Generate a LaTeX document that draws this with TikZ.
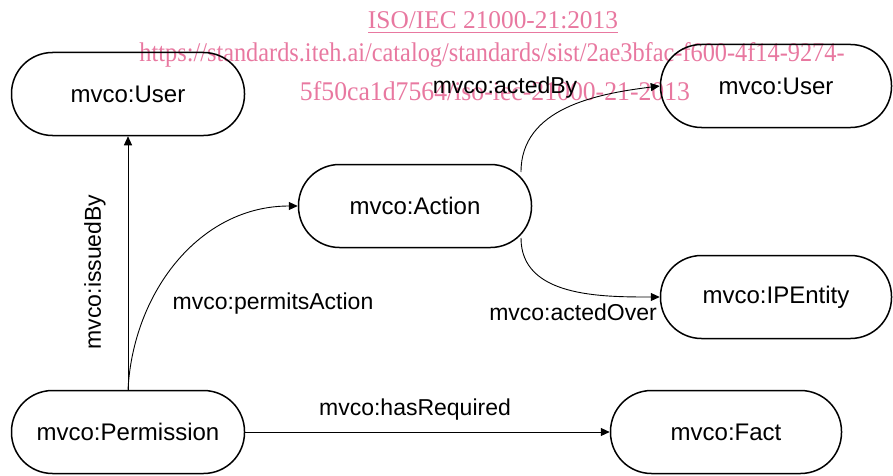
\documentclass[tikz,border=0pt]{standalone}
\usepackage{fontspec}
\setmainfont{Liberation Sans}
\newfontfamily\wmfont{Liberation Serif}
\usetikzlibrary{arrows.meta}
\definecolor{wmpink}{RGB}{232,120,160}
\tikzset{
  cls/.style={draw, line width=1.5pt, rounded corners=41pt, minimum width=233pt, minimum height=83pt, font=\fontsize{24}{28}\selectfont, inner sep=0pt},
  rel/.style={line width=0.9pt, -{Triangle[length=9pt,width=8pt]}},
  lab/.style={font=\fontsize{23}{27}\selectfont, inner sep=0pt},
  wm/.style={text=wmpink, inner sep=0pt, anchor=base}
}
\begin{document}
\begin{tikzpicture}[x=1pt,y=1pt]
\useasboundingbox (0,0) rectangle (893,475);
% watermark
\node[wm] (wm1) at (493,446) {\resizebox{250pt}{17pt}{\wmfont\fontsize{20}{24}\selectfont ISO/IEC 21000-21:2013}};
\draw[wmpink, line width=0.9pt] (368,443) -- (618,443);
\node[wm] (wm2) at (492,413) {\resizebox{705pt}{19pt}{\wmfont\fontsize{20}{24}\selectfont https://standards.iteh.ai/catalog/standards/sist/2ae3bfac-f600-4f14-9274-}};
\node[wm] (wm3) at (495,374) {\resizebox{390pt}{19pt}{\wmfont\fontsize{20}{24}\selectfont 5f50ca1d7564/iso-iec-21000-21-2013}};
% classes
\node[cls] (userL) at (128,381) {mvco:User};
\node[cls, minimum width=231pt] (userR) at (776,389) {mvco:User};
\node[cls] (act) at (415,269) {mvco:Action};
\node[cls, minimum width=231pt] (ipe) at (776,178) {mvco:IPEntity};
\node[cls] (perm) at (128,43) {mvco:Permission};
\node[cls, minimum width=231pt] (fact) at (726,43) {mvco:Fact};
\coordinate (actUp) at ([shift={(106,34)}]act.center);
\coordinate (actDn) at ([shift={(106,-32)}]act.center);
% relations
\draw[rel] (perm.north) -- (userL.south);
\draw[rel] (perm.north) to[out=87,in=180] (act.west);
\draw[rel] (actUp) to[out=90,in=187] (userR.west);
\draw[rel] (actDn) to[out=270,in=180] (ipe.west);
\draw[rel] (perm.east) -- (fact.west);
% labels
\node[lab, rotate=90] (lIssued) at (95,203) {mvco:issuedBy};
\node[lab] (lPermits) at (273,171) {mvco:permitsAction};
\node[lab] (lBy) at (505,387) {mvco:actedBy};
\node[lab] (lOver) at (573,163) {mvco:actedOver};
\node[lab] (lReq) at (415,65) {mvco:hasRequired};
\end{tikzpicture}
\end{document}
